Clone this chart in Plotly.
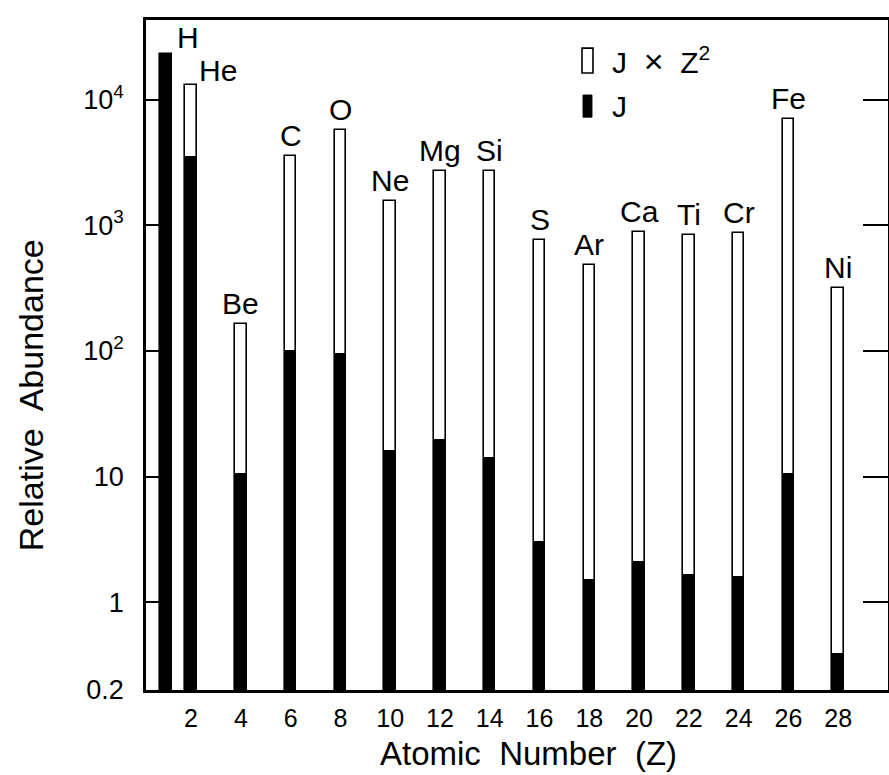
import numpy as np
import plotly.graph_objects as go

# Atomic number of each element shown
Z = [1, 2, 4, 6, 8, 10, 12, 14, 16, 18, 20, 22, 24, 26, 28]
elements = ["H", "He", "Be", "C", "O", "Ne", "Mg", "Si", "S", "Ar",
            "Ca", "Ti", "Cr", "Fe", "Ni"]
# Relative abundance J and the weighted quantity J x Z^2
J = [23000, 3500, 10.5, 100, 94, 16, 19.5, 14, 3.0, 1.5,
     2.1, 1.65, 1.6, 10.5, 0.39]
JZ2 = [23000, 13000, 165, 3600, 5700, 1550, 2700, 2700, 770, 480,
       880, 840, 870, 7000, 315]

x_ticks = list(range(2, 29, 2))
y_tickvals = [0.2, 1, 10, 100, 1000, 10000]
y_ticktext = ["0.2", "1", "10", "10<sup>2</sup>", "10<sup>3</sup>", "10<sup>4</sup>"]

FONT = "Liberation Sans, Arial, Helvetica, sans-serif"
Y_RANGE = [np.log10(0.2), 4.635]
X_RANGE = [0.19, 30.0]

fig = go.Figure()

fig.add_trace(go.Bar(
    x=Z, y=JZ2, width=0.46,
    marker=dict(color="white", line=dict(color="black", width=1.6)),
    name="J × Z²", showlegend=False,
))
fig.add_trace(go.Bar(
    x=Z, y=J, width=0.46,
    marker=dict(color="black", line=dict(color="black", width=1)),
    name="J", showlegend=False,
))
# carrier for the right-hand tick axis
fig.add_trace(go.Scatter(x=[None], y=[None], yaxis="y2", showlegend=False,
                         hoverinfo="skip"))

annotations = []
for z, el, top in zip(Z, elements, JZ2):
    if el in ("H", "He"):
        annotations.append(dict(
            x=z, y=np.log10(top), text=el, showarrow=False,
            xanchor="left", yanchor="bottom",
            xshift=9 if el == "H" else 6, yshift=-4 if el == "He" else -2,
            font=dict(family=FONT, size=30, color="black")))
    else:
        annotations.append(dict(
            x=z, y=np.log10(top), text=el, showarrow=False,
            xanchor="center", yanchor="bottom", yshift=2,
            font=dict(family=FONT, size=30, color="black")))

# legend text
annotations += [
    dict(xref="paper", yref="paper", x=0.625, y=0.94,
         text="J  <span style='font-size:34px'>×</span>  Z<sup>2</sup>",
         showarrow=False, xanchor="left", yanchor="middle",
         font=dict(family=FONT, size=30, color="black")),
    dict(xref="paper", yref="paper", x=0.625, y=0.871, text="J",
         showarrow=False, xanchor="left", yanchor="middle",
         font=dict(family=FONT, size=30, color="black")),
    # axis titles
    dict(xref="paper", yref="paper", x=0.515, y=-0.095, text="Atomic  Number  (Z)",
         showarrow=False, xanchor="center", yanchor="middle",
         font=dict(family=FONT, size=33, color="black")),
    dict(xref="paper", yref="paper", x=-0.155, y=0.44, text="Relative  Abundance",
         textangle=-90, showarrow=False, xanchor="center", yanchor="middle",
         font=dict(family=FONT, size=34, color="black")),
]

shapes = [
    dict(type="rect", xref="paper", yref="paper", x0=0.5876, x1=0.6024,
         y0=0.921, y1=0.958, line=dict(color="black", width=1.6),
         fillcolor="white"),
    dict(type="rect", xref="paper", yref="paper", x0=0.589, x1=0.601,
         y0=0.855, y1=0.888, line=dict(color="black", width=1),
         fillcolor="black"),
]

fig.update_layout(
    width=889, height=775,
    margin=dict(l=146, r=1, t=20, b=85),
    paper_bgcolor="white", plot_bgcolor="white",
    barmode="overlay", bargap=0,
    showlegend=False,
    font=dict(family=FONT, color="black"),
    annotations=annotations,
    shapes=shapes,
    xaxis=dict(
        range=X_RANGE, tickvals=x_ticks, ticks="", showgrid=False,
        zeroline=False, showline=True, linecolor="black", linewidth=2.5,
        mirror=True, ticklabelstandoff=4,
        tickfont=dict(family=FONT, size=25, color="black"),
    ),
    yaxis=dict(
        type="log", range=Y_RANGE, tickvals=y_tickvals, ticktext=y_ticktext,
        ticks="inside", ticklen=15, tickwidth=2, tickcolor="black",
        showgrid=False, zeroline=False, showline=True, linecolor="black",
        linewidth=2.5, ticklabelstandoff=14,
        tickfont=dict(family=FONT, size=27, color="black"),
    ),
    yaxis2=dict(
        type="log", range=Y_RANGE, overlaying="y", side="right",
        tickvals=[1, 10, 100, 1000, 10000], ticks="inside", ticklen=25,
        tickwidth=2, tickcolor="black", showticklabels=False,
        showgrid=False, zeroline=False, showline=True, linecolor="black",
        linewidth=2.5,
    ),
)

fig.write_html("out.html")
